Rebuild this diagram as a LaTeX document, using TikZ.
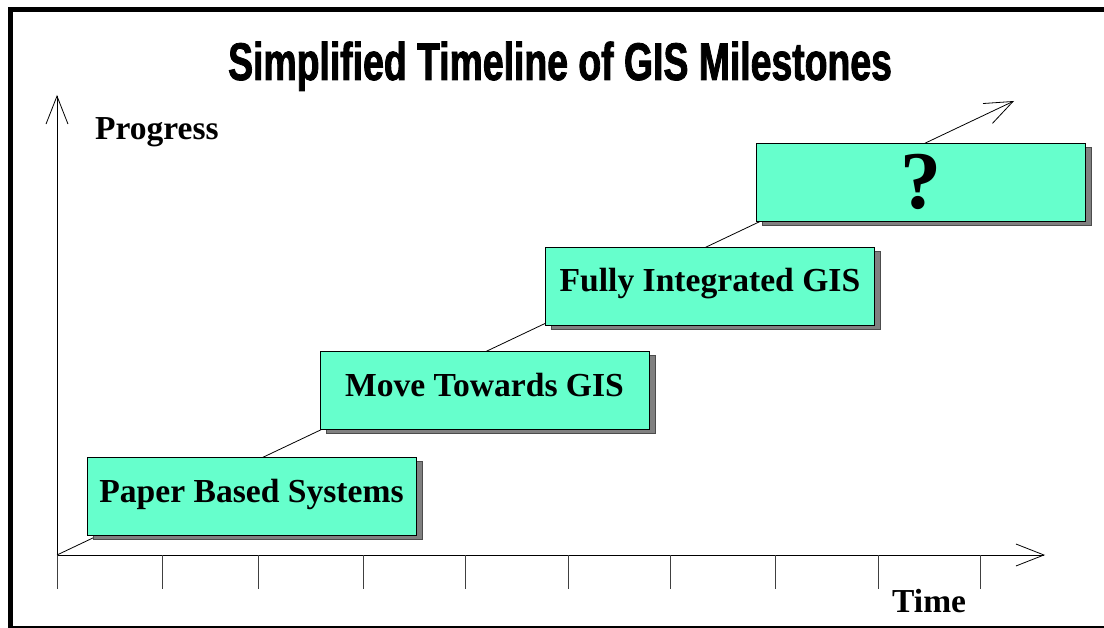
\documentclass[tikz,border=0pt]{standalone}
\usepackage{fontspec}
\setmainfont{Liberation Serif}
\newfontfamily\titlefont[FakeStretch=0.705, FakeBold=1.6]{Liberation Sans}
\usetikzlibrary{arrows.meta, shadows}
\definecolor{boxfill}{RGB}{102,255,204}
\tikzstyle{milestone} = [rectangle, minimum width=329pt, minimum height=78pt, text height=22pt, text depth=10pt, text centered, draw=black, fill=boxfill, drop shadow={shadow xshift=6pt, shadow yshift=-4pt, fill=black!50, draw=black!70, opacity=1}, font=\fontsize{33.6}{36}\selectfont\bfseries]
\tikzstyle{label} = [font=\fontsize{33.5}{36}\selectfont\bfseries, inner sep=0pt]
\tikzstyle{axis} = [line width=0.8pt, -{Straight Barb[length=28pt, width=22pt, line width=0.8pt]}]

\begin{document}
\begin{tikzpicture}[x=1pt, y=-1pt, node distance=1cm]
\useasboundingbox (0,0) rectangle (1104,628);

% frame
\draw [line width=5pt] (10,640) -- (10,9.5) -- (1120,9.5);
\draw [line width=1.5pt] (10,627) -- (1120,627);

\node (title) [anchor=base, font=\fontsize{53}{60}\selectfont\titlefont\bfseries, inner sep=0pt] at (560,80) {Simplified Timeline of GIS Milestones};

% axes and time ticks
\coordinate (origin) at (57,555);
\coordinate (ytip) at (57,95);
\coordinate (xtip) at (1045,555);
\coordinate (trendtip) at (1014,101);
\draw [axis] (origin) -- (ytip);
\draw [axis] (origin) -- (xtip);
\foreach \x in {57,162,258,363,465,568,670,775,878,980}
  \draw [line width=0.8pt, black!75] (\x,555) -- (\x,589);
\draw [axis] (origin) -- (trendtip);

\node (progress) [label, anchor=base west] at (95,140) {Progress};
\node (time) [label, anchor=base west] at (892,612) {Time};

% milestones
\node (paper) [milestone] at (251.5,496.5) {Paper Based Systems};
\node (move) [milestone, right of=paper, xshift=204.5pt, yshift=106pt] {Move Towards GIS};
\node (fully) [milestone, right of=move, xshift=197pt, yshift=104.5pt] {Fully Integrated GIS};
\node (future) [milestone, right of=fully, xshift=182.5pt, yshift=104pt, text height=54pt, text depth=0pt, font=\fontsize{82}{86}\selectfont\bfseries] {?};

\end{tikzpicture}
\end{document}
